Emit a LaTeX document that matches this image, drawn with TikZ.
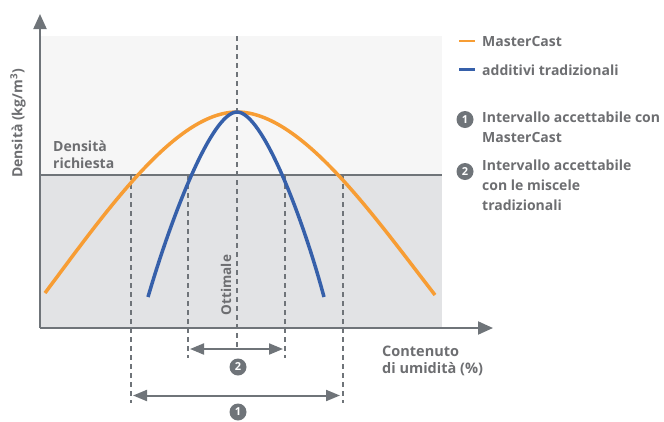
\documentclass[tikz,border=0pt]{standalone}
\usepackage{fontspec}
\setmainfont{Open Sans}
\usetikzlibrary{arrows.meta}
\definecolor{txtgray}{RGB}{109,110,113}
\definecolor{axisgray}{RGB}{111,116,121}
\definecolor{bgtop}{RGB}{246,246,246}
\definecolor{bgbot}{RGB}{226,227,229}
\definecolor{mcorange}{RGB}{247,157,52}
\definecolor{tradblue}{RGB}{54,96,170}
\begin{document}
\begin{tikzpicture}[x=1pt,y=-1pt,
  lbl/.style={text=txtgray, font=\fontsize{14}{19.5}\selectfont\bfseries, inner sep=0pt, align=left},
  numc/.style={circle, fill=axisgray, text=white, inner sep=0pt, minimum size=17pt, font=\fontsize{11}{11}\selectfont\bfseries},
  dimline/.style={draw=axisgray, line width=1.2pt, dash pattern=on 5pt off 4pt},
  axisline/.style={draw=axisgray, line width=2pt, -{Triangle[length=15pt,width=13pt]}},
  spanline/.style={draw=axisgray, line width=2pt, {Triangle[length=14pt,width=11pt]}-{Triangle[length=14pt,width=11pt]}},
  curve/.style={line width=3.5pt}
]
\useasboundingbox (0,0) rectangle (664,421);
% background regions
\fill[bgtop] (40,36) rectangle (442,175);
\fill[bgbot] (40,175) rectangle (442,328);
\draw[axisgray, line width=1.3pt] (40,175) -- (442,175);
% coordinates
\coordinate (o) at (40,328);
\coordinate (ytip) at (40,14);
\coordinate (xtip) at (493,328);
% dashed guide lines
\coordinate (d1t) at (131,175); \coordinate (d1b) at (131,403);
\coordinate (d2t) at (188,175); \coordinate (d2b) at (188,358);
\coordinate (d3t) at (237,36);  \coordinate (d3b) at (237,349);
\coordinate (d4t) at (285,175); \coordinate (d4b) at (285,358);
\coordinate (d5t) at (343,175); \coordinate (d5b) at (343,403);
\draw[dimline] (d1t) -- (d1b);
\draw[dimline] (d2t) -- (d2b);
\draw[dimline] (d3t) -- (d3b);
\draw[dimline] (d4t) -- (d4b);
\draw[dimline] (d5t) -- (d5b);
% curves
\coordinate (peak) at (237,112);
\draw[curve, mcorange] (45,293) .. controls (105,213) and (175,112) .. (peak)
   .. controls (301,112) and (373,215) .. (435,295);
\draw[curve, tradblue] (148,297) .. controls (172,215) and (212,112) .. (peak)
   .. controls (262,112) and (302,215) .. (324,297);
% axes
\draw[axisline] (o) -- (ytip);
\draw[axisline] (o) -- (xtip);
% spans
\coordinate (s2l) at (190,349); \coordinate (s2r) at (283,349);
\coordinate (s1l) at (133,395.5); \coordinate (s1r) at (340,395.5);
\draw[spanline] (s2l) -- (s2r);
\draw[spanline] (s1l) -- (s1r);
\node[numc] (n2) at (238,367) {2};
\node[numc] (n1) at (238,412) {1};
% labels
\node[lbl, rotate=90, font=\fontsize{14}{16}\selectfont\bfseries] (ylab) at (18,123.5) {Densità (kg/m\textsuperscript{3})};
\node[lbl, anchor=base west, font=\fontsize{14}{16.5}\selectfont\bfseries] (dens) at (53,168) {Densità\\richiesta};
\node[lbl, rotate=90, font=\fontsize{13.5}{16}\selectfont\bfseries] (ott) at (226,285) {Ottimale};
\node[lbl, anchor=base west, font=\fontsize{14.5}{17.5}\selectfont\bfseries] (xlab) at (382,373.5) {Contenuto\\di umidità (\%)};
% legend
\coordinate (lo1) at (459,41); \coordinate (lo2) at (475,41);
\coordinate (lb1) at (459,69.5); \coordinate (lb2) at (475,69.5);
\draw[mcorange, line width=2.5pt] (lo1) -- (lo2);
\draw[tradblue, line width=2.5pt] (lb1) -- (lb2);
\node[lbl, anchor=base west] (legmc) at (482,46.5) {MasterCast};
\node[lbl, anchor=base west] (legtr) at (482,75) {additivi tradizionali};
\node[numc] (l1) at (465,119.5) {1};
\node[lbl, anchor=base west, font=\fontsize{14}{20}\selectfont\bfseries] (leg1) at (482,142.5) {Intervallo accettabile con\\MasterCast};
\node[numc] (l2) at (465,171.5) {2};
\node[lbl, anchor=base west, font=\fontsize{14}{19.6}\selectfont\bfseries] (leg2) at (482,210) {Intervallo accettabile\\con le miscele\\tradizionali};
\end{tikzpicture}
\end{document}
